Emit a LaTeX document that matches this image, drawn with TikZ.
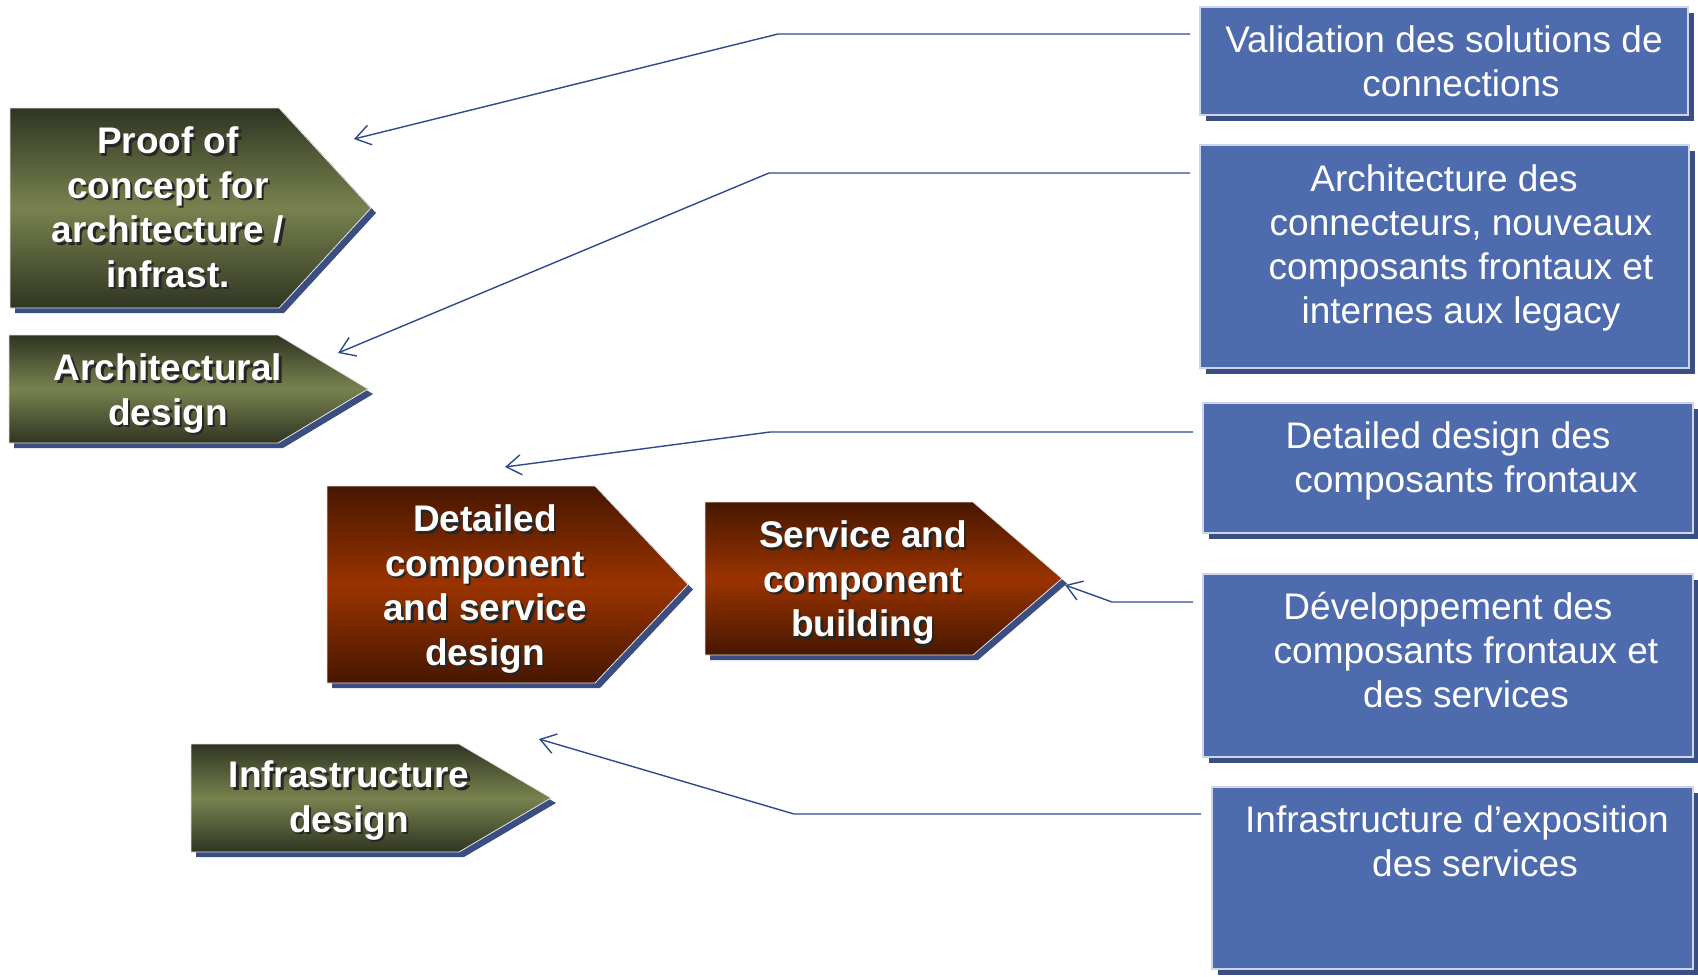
\documentclass[tikz,border=0pt]{standalone}
\usepackage{fontspec}
\setmainfont{Liberation Sans}
\usetikzlibrary{arrows.meta}
\definecolor{boxblue}{HTML}{4E6BAE}
\definecolor{boxshadow}{HTML}{3B4E82}
\definecolor{linkblue}{HTML}{2E4A8C}
\definecolor{gdark}{HTML}{303522}
\definecolor{glight}{HTML}{78824F}
\definecolor{bdark}{HTML}{471700}
\definecolor{blight}{HTML}{9A3300}
\newcommand{\chevshape}[6]{% left, top, rect right, tip x, bottom, shading style
  \fill[boxshadow] (#1+5,#2+5) -- (#3+5,#2+5) -- (#4+5,{(#2+#5)/2+5}) -- (#3+5,#5+5) -- (#1+5,#5+5) -- cycle;
  \shade[#6] (#1,#2) -- (#3,#2) -- (#4,{(#2+#5)/2}) -- (#3,#5) -- (#1,#5) -- cycle;
  \draw[white!80!gray, line width=0.4pt] (#1,#2) -- (#3,#2) -- (#4,{(#2+#5)/2}) -- (#3,#5) -- (#1,#5) -- cycle;}
\newcommand{\chevlabel}[4]{% name, x, y, text
  \node[chevtext, text=black!85] (#1s) at (#2+2.5,#3+2.5) {#4};
  \node[chevtext] (#1) at (#2,#3) {#4};}
\newcommand{\bluebox}[5]{% name, left, top, right, bottom
  \fill[boxshadow] (#2+6,#3+6) rectangle (#4+6,#5+6);
  \path[fill=boxblue, draw=white!72!boxblue, line width=0.6pt] (#2,#3) rectangle (#4,#5);
  \coordinate (#1) at ({(#2+#4)/2},{(#3+#5)/2});}
\begin{document}
\begin{tikzpicture}[x=0.5pt,y=-0.5pt,
  greenshade/.style={top color=gdark, bottom color=gdark, middle color=glight},
  brownshade/.style={top color=bdark, bottom color=bdark, middle color=blight},
  boxtext/.style={anchor=north, inner sep=0pt, align=center, text=white, font=\fontsize{18.5}{22}\selectfont},
  chevtext/.style={anchor=north, inner sep=0pt, align=center, text=white, font=\fontsize{18.5}{22.3}\selectfont\bfseries},
  link/.style={draw=linkblue, line width=0.7pt, -{Straight Barb[length=7.5pt,width=10pt]}}]
\useasboundingbox (0,0) rectangle (1698,976);
\fill[white] (0,0) rectangle (1698,976);

% chevrons
\chevshape{10}{108}{279}{371}{308}{greenshade}
\chevlabel{poc}{168}{122}{\strut Proof of\\concept for\\architecture /\\infrast.}
\chevshape{9}{335}{278}{368}{443}{greenshade}
\chevlabel{arch}{168}{349}{\strut Architectural\\design}
\chevshape{327}{486}{595}{688}{683}{brownshade}
\chevlabel{dcsd}{485}{500}{\strut Detailed\\component\\and service\\design}
\chevshape{705}{502}{973}{1062}{655}{brownshade}
\chevlabel{scb}{863}{516}{\strut Service and\\component\\building}
\chevshape{191}{744}{459}{551}{852}{greenshade}
\chevlabel{infd}{349}{756}{\strut Infrastructure\\design}

% blue boxes
\bluebox{bA}{1200}{7}{1688}{115}
\node[boxtext] (tA) at (1461,21) {\strut Validation des solutions de\hspace*{17pt}\\connections};
\bluebox{bB}{1200}{145}{1689}{368}
\node[boxtext] (tB) at (1461,160) {\strut Architecture des\hspace*{17pt}\\connecteurs, nouveaux\\composants frontaux et\\internes aux legacy};
\bluebox{bC}{1203}{403}{1693}{533}
\node[boxtext] (tC) at (1466,417) {\strut Detailed design des\hspace*{18pt}\\composants frontaux};
\bluebox{bD}{1203}{574}{1693}{757}
\node[boxtext] (tD) at (1466,588) {\strut Développement des\hspace*{18pt}\\composants frontaux et\\des services};
\bluebox{bE}{1212}{787}{1693}{969}
\node[boxtext] (tE) at (1475,801) {\strut Infrastructure d’exposition\hspace*{18pt}\\des services};

% connectors
\coordinate (s1) at (1190,34);  \coordinate (k1) at (778,34);  \coordinate (e1) at (354,139);
\coordinate (s2) at (1190,173); \coordinate (k2) at (769,173); \coordinate (e2) at (338,353);
\coordinate (s3) at (1193,432); \coordinate (k3) at (770,432); \coordinate (e3) at (505,467);
\coordinate (s4) at (1193,602); \coordinate (k4) at (1112,602); \coordinate (e4) at (1065,585);
\coordinate (s5) at (1201,814); \coordinate (k5) at (794,814); \coordinate (e5) at (539,739);
\draw[link] (s1) -- (k1) -- (e1);
\draw[link] (s2) -- (k2) -- (e2);
\draw[link] (s3) -- (k3) -- (e3);
\draw[link] (s4) -- (k4) -- (e4);
\draw[link] (s5) -- (k5) -- (e5);
\end{tikzpicture}
\end{document}
